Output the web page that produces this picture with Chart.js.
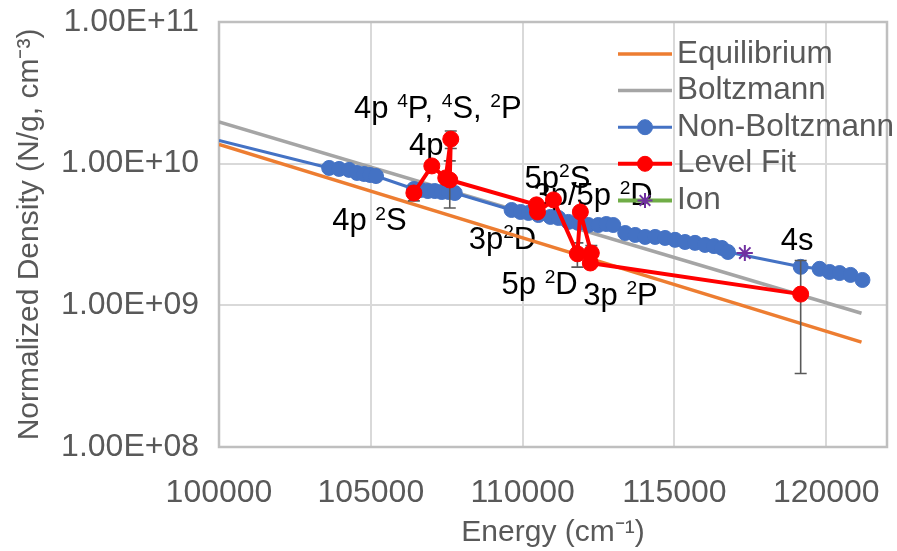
<!DOCTYPE html>
<html>
<head>
<meta charset="utf-8">
<script src="https://cdn.jsdelivr.net/npm/chart.js@4.4.1/dist/chart.umd.min.js"></script>
<style>
html, body { margin: 0; padding: 0; background: #fff; }
</style>
</head>
<body>
<canvas id="chart" width="897" height="551"></canvas>
<script>
// fitted lines (two end points each, straight on the log axis)
const fitEnergy = [100000, 121160];
const equilibrium = [1.37e10, 5.5e8];
const boltzmann = [1.97e10, 8.8e8];

// non-Boltzmann level populations
const nbEnergy = [100000, 103628, 103956, 104284, 104547, 104777, 104974, 105171,
    106418, 106648, 106878, 107108, 107337, 107567, 107764,
    109636, 109931, 110194, 110522, 110916, 111179, 111507, 111835, 112164, 112492, 112755, 112985,
    113379, 113707, 114035, 114364, 114692, 115020, 115349, 115677, 116005, 116300, 116563, 116760,
    119157, 119780, 120109, 120437, 120798, 121192];
const nbDensity = [1.46e10, 9.33e9, 9.18e9, 9.04e9, 8.6e9, 8.46e9, 8.32e9, 8.18e9,
    6.63e9, 6.52e9, 6.41e9, 6.41e9, 6.31e9, 6.31e9, 6.21e9,
    4.71e9, 4.56e9, 4.49e9, 4.34e9, 4.21e9, 4.14e9, 3.88e9, 3.82e9, 3.69e9, 3.69e9, 3.75e9, 3.69e9,
    3.24e9, 3.14e9, 3.04e9, 3.04e9, 2.99e9, 2.90e9, 2.80e9, 2.76e9, 2.67e9, 2.62e9, 2.54e9, 2.38e9,
    1.87e9, 1.81e9, 1.72e9, 1.69e9, 1.64e9, 1.51e9];

// level fit points with their error
const levelEnergy = [106418, 107009, 107468, 107633, 107600, 110457, 110490, 111015, 111803, 111901, 112262, 112229, 119157];
const levelDensity = [6.21e9, 9.64e9, 7.93e9, 1.49e10, 7.67e9, 5.12e9, 4.56e9, 5.55e9, 2.31e9, 4.56e9, 2.34e9, 1.99e9, 1.20e9];
const levelError = [0.75e9, 0, 0, 2.1e9, 2.8e9, 0, 0, 0, 0.45e9, 0, 0.3e9, 0, 0.87e9];

const ionEnergy = [117318];
const ionDensity = [2.34e9];

const xTicks = [100000, 105000, 110000, 115000, 120000];
const yTicks = [1e8, 1e9, 1e10, 1e11];

// level labels: [text, superscript?] parts, anchored at left/baseline
const levelLabels = [
    { parts: [["4p "], ["4", 1], ["P, "], ["4", 1], ["S, "], ["2", 1], ["P"]], x: 104448, y: 2.10e10 },
    { parts: [["4p"]], x: 106254, y: 1.152e10 },
    { parts: [["4p "], ["2", 1], ["S"]], x: 103726, y: 3.40e9 },
    { parts: [["3p"], ["2", 1], ["D"]], x: 108224, y: 2.50e9 },
    { parts: [["5p"], ["2", 1], ["S"]], x: 110063, y: 6.74e9 },
    { parts: [["3p/5p "], ["2", 1], ["D"]], x: 110358, y: 5.11e9 },
    { parts: [["5p "], ["2", 1], ["D"]], x: 109307, y: 1.204e9 },
    { parts: [["3p "], ["2", 1], ["P"]], x: 111999, y: 1.007e9 },
    { parts: [["4s"]], x: 118499, y: 2.46e9 }
];

const FONT = '"Liberation Sans", Arial, sans-serif';
const GREY_TEXT = "#595959";

const pts = (xs, ys) => xs.map((x, i) => ({ x: x, y: ys[i] }));

function drawRich(ctx, parts, x, y, size) {
    let cx = x;
    ctx.textAlign = "left";
    ctx.textBaseline = "alphabetic";
    for (const [t, sup] of parts) {
        const fs = sup ? size * 0.62 : size;
        ctx.font = fs + "px " + FONT;
        ctx.fillText(t, cx, sup ? y - size * 0.34 : y);
        cx += ctx.measureText(t).width;
    }
}

const extras = {
    id: "extras",
    beforeDatasetsDraw(chart) {
        const { ctx, chartArea: a, scales } = chart;
        ctx.save();
        ctx.strokeStyle = "#bfbfbf";
        ctx.lineWidth = 2.5;
        ctx.strokeRect(a.left, a.top, a.right - a.left, a.bottom - a.top);
        ctx.fillStyle = "#000";
        levelLabels.forEach(l => {
            drawRich(ctx, l.parts, scales.x.getPixelForValue(l.x), scales.y.getPixelForValue(l.y), 31);
        });
        ctx.restore();
    },
    beforeDatasetDraw(chart, args) {
        if (chart.data.datasets[args.index].label !== "Level Fit") return;
        const { ctx, scales } = chart;
        ctx.save();
        ctx.strokeStyle = "#595959";
        ctx.lineWidth = 1.6;
        levelEnergy.forEach((e, i) => {
            if (!levelError[i]) return;
            const px = scales.x.getPixelForValue(e);
            const top = scales.y.getPixelForValue(levelDensity[i] + levelError[i]);
            const bot = scales.y.getPixelForValue(levelDensity[i] - levelError[i]);
            ctx.beginPath();
            ctx.moveTo(px, top); ctx.lineTo(px, bot);
            ctx.moveTo(px - 6, top); ctx.lineTo(px + 6, top);
            ctx.moveTo(px - 6, bot); ctx.lineTo(px + 6, bot);
            ctx.stroke();
        });
        ctx.restore();
    },
    afterDraw(chart) {
        const ctx = chart.ctx;
        const x0 = 618, x1 = 672, y0 = 54, step = 36.6;
        ctx.save();
        chart.data.datasets.forEach((ds, i) => {
            const y = y0 + i * step;
            ctx.strokeStyle = ds.borderColor;
            ctx.lineWidth = ds.borderWidth;
            ctx.beginPath();
            ctx.moveTo(x0, y); ctx.lineTo(x1, y);
            ctx.stroke();
            if (ds.legendMarker) {
                ctx.fillStyle = ds.pointBackgroundColor;
                ctx.strokeStyle = ds.pointBorderColor;
                ctx.lineWidth = ds.pointBorderWidth || 1;
                Chart.helpers.drawPoint(ctx, { pointStyle: ds.pointStyle || "circle", radius: 7.5, borderWidth: ds.pointBorderWidth || 1, rotation: 0 }, (x0 + x1) / 2, y);
            }
            ctx.fillStyle = GREY_TEXT;
            ctx.font = "31.5px " + FONT;
            ctx.textAlign = "left";
            ctx.textBaseline = "middle";
            ctx.fillText(ds.label, 677, y);
        });
        ctx.restore();
    }
};

new Chart(document.getElementById("chart"), {
    type: "scatter",
    data: {
        datasets: [
            {
                label: "Equilibrium", data: pts(fitEnergy, equilibrium), showLine: true,
                borderColor: "#ED7D31", borderWidth: 3.5, pointRadius: 0, order: 5
            },
            {
                label: "Boltzmann", data: pts(fitEnergy, boltzmann), showLine: true,
                borderColor: "#A5A5A5", borderWidth: 3.5, pointRadius: 0, order: 4
            },
            {
                label: "Non-Boltzmann", data: pts(nbEnergy, nbDensity), showLine: true,
                borderColor: "#4472C4", borderWidth: 3, backgroundColor: "#4472C4",
                pointBackgroundColor: "#4472C4", pointBorderColor: "#4472C4", pointBorderWidth: 1,
                pointRadius: c => c.dataIndex === 0 ? 0 : 7.5, legendMarker: true, order: 3
            },
            {
                label: "Level Fit", data: pts(levelEnergy, levelDensity), showLine: true,
                borderColor: "#FF0000", borderWidth: 4, backgroundColor: "#FF0000",
                pointBackgroundColor: "#FF0000", pointBorderColor: "#FF0000", pointBorderWidth: 1,
                pointRadius: 8, legendMarker: true, order: 2
            },
            {
                label: "Ion", data: pts(ionEnergy, ionDensity), showLine: true,
                borderColor: "#70AD47", borderWidth: 4, pointStyle: "star",
                pointBackgroundColor: "#7030A0", pointBorderColor: "#7030A0", pointBorderWidth: 2,
                pointRadius: 8, legendMarker: true, order: 1
            }
        ]
    },
    options: {
        responsive: false,
        animation: false,
        events: [],
        layout: { padding: { top: 22, right: 9, left: 0, bottom: 0 } },
        elements: { line: { tension: 0 } },
        plugins: { legend: { display: false }, tooltip: { enabled: false } },
        scales: {
            x: {
                type: "linear", min: 100000, max: 122000,
                afterBuildTicks: s => { s.ticks = xTicks.map(v => ({ value: v })); },
                afterFit: s => { s.height = 104; s.paddingLeft = 0; s.paddingRight = 0; },
                ticks: {
                    padding: 27, autoSkip: false, maxRotation: 0,
                    color: GREY_TEXT, font: { family: FONT, size: 32 },
                    callback: v => String(v)
                },
                grid: { color: "#d9d9d9", lineWidth: 2, drawTicks: false },
                border: { display: false },
                title: {
                    display: true, text: "Energy (cm\u207B\u00B9)", color: GREY_TEXT,
                    font: { family: FONT, size: 30 }, padding: { top: 6, bottom: 0 }
                }
            },
            y: {
                type: "logarithmic", min: 1e8, max: 1e11,
                afterBuildTicks: s => { s.ticks = yTicks.map(v => ({ value: v })); },
                afterFit: s => { s.width = 219; s.paddingTop = 0; s.paddingBottom = 0; },
                ticks: {
                    padding: 20, color: GREY_TEXT, font: { family: FONT, size: 32 },
                    callback: v => {
                        const [m, e] = Number(v).toExponential(2).split("e");
                        return m + "E" + e[0] + e.slice(1).padStart(2, "0");
                    }
                },
                grid: { color: "#d9d9d9", lineWidth: 2, drawTicks: false },
                border: { display: false },
                title: {
                    display: true, text: "Normalized Density (N/g, cm\u207B\u00B3)", color: GREY_TEXT,
                    font: { family: FONT, size: 30 }, padding: { top: 12, bottom: 0 }
                }
            }
        }
    },
    plugins: [extras]
});
</script>
</body>
</html>
